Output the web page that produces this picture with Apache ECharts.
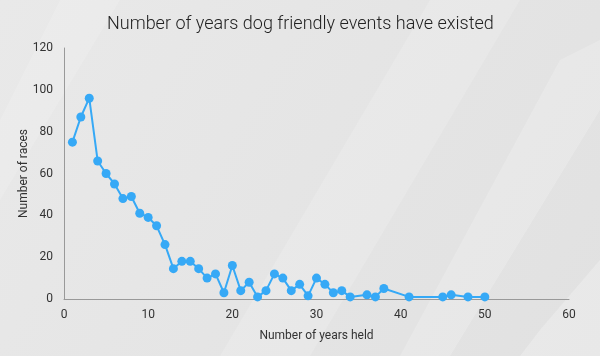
<!DOCTYPE html>
<html>
<head>
<meta charset="utf-8">
<script src="https://cdn.jsdelivr.net/npm/echarts@6/dist/echarts.min.js"></script>
<style>html,body{margin:0;padding:0;background:#e6e6e6;}#c{width:600px;height:356px;}</style>
</head>
<body>
<div id="c"></div>
<script>
var years = [1,2,3,4,5,6,7,8,9,10,11,12,13,14,15,16,17,18,19,20,21,22,23,24,25,26,27,28,29,30,31,32,33,34,36,37,38,41,45,46,48,50];
var races = [75,87,96,66,60,55,48,49,41,39,35,26,14.5,18,18,14.5,10,12,3,16,4,8,1,4,12,10,4,7,1.5,10,7,3,4,1,2,1,5,1,1,2,1,1];
var xTicks = [0,10,20,30,40,50,60];
var yTicks = [0,20,40,60,80,100,120];

var chart = echarts.init(document.getElementById('c'), null, {renderer:'canvas'});
var pts = years.map(function(x,i){return [x, races[i]];});
function band(pts, op){
  return {type:'polygon', silent:true, z:-10, shape:{points:pts}, style:{fill:'rgba(255,255,255,'+op+')'}};
}
chart.setOption({
  backgroundColor: {type:'linear', x:0, y:0, x2:1, y2:1, colorStops:[{offset:0,color:'#e9e9e9'},{offset:1,color:'#e1e1e1'}]},
  animation:false,
  graphic:[
    band([[430,0],[520,0],[310,356],[220,356]],0.16),
    band([[560,60],[600,40],[600,110],[450,356],[400,356]],0.2),
    band([[0,120],[60,0],[120,0],[0,200]],0.15),
    band([[540,330],[600,260],[600,356],[520,356]],0.25)
  ],
  title:{text:'Number of years dog friendly events have existed', left:102, top:10,
    textStyle:{fontFamily:'Roboto', fontWeight:300, fontSize:18, color:'#222'}},
  grid:{left:64, right:31, top:48, bottom:57},
  xAxis:{type:'value', min:xTicks[0], max:xTicks[xTicks.length-1], interval:10,
    name:'Number of years held', nameLocation:'middle', nameGap:31, nameMoveOverlap:false,
    nameTextStyle:{fontFamily:'Roboto', fontSize:12, color:'#333'},
    axisLine:{lineStyle:{color:'#999'}}, axisTick:{show:false}, splitLine:{show:false},
    axisLabel:{fontFamily:'Roboto', fontSize:12, color:'#333', margin:10}},
  yAxis:{type:'value', min:yTicks[0], max:yTicks[yTicks.length-1], interval:20,
    name:'Number of races', nameLocation:'middle', nameGap:34, nameMoveOverlap:false,
    nameTextStyle:{fontFamily:'Roboto', fontSize:12, color:'#333'},
    axisLine:{show:true, lineStyle:{color:'#999'}}, axisTick:{show:false}, splitLine:{show:false},
    axisLabel:{fontFamily:'Roboto', fontSize:12, color:'#333', margin:11}},
  series:[{type:'line', data:pts, symbol:'circle', symbolSize:9,
    lineStyle:{color:'#36a9f6', width:2}, itemStyle:{color:'#36a9f6'}}]
});
</script>
</body>
</html>
